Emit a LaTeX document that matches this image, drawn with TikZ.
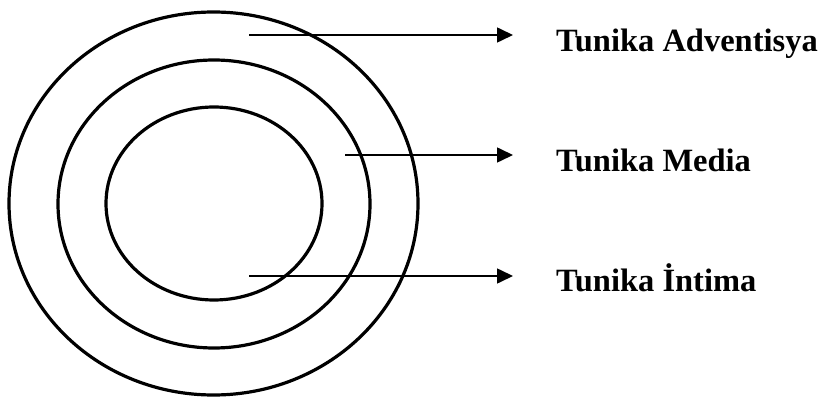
\documentclass[tikz,border=0pt]{standalone}
\usepackage{fontspec}
\setmainfont{Liberation Serif}
\usetikzlibrary{shapes.geometric,arrows.meta}
\tikzset{
  ring/.style={draw=black, ellipse, line width=3.2pt, inner sep=0pt},
  arr/.style={draw=black, line width=1.6pt, -{Triangle[length=16pt,width=15pt]}},
  lbl/.style={anchor=base west, inner sep=0pt, font=\fontsize{32.5}{36}\selectfont\bfseries}
}
\begin{document}
\begin{tikzpicture}[x=1pt,y=-1pt]
\useasboundingbox (0,0) rectangle (819,398);
\node[ring, minimum width=409pt, minimum height=383pt] (outer) at (213.5,203.5) {};
\node[ring, minimum width=312pt, minimum height=288pt] (middle) at (214,204) {};
\node[ring, minimum width=216pt, minimum height=193pt] (inner) at (214,203.5) {};
\node[lbl] (adv) at (556,51.7) {Tunika Adventisya};
\node[lbl] (med) at (556,171.7) {Tunika Media};
\node[lbl] (int) at (556,291.7) {Tunika İntima};
\coordinate (s1) at (249,35);
\coordinate (s2) at (345,155);
\coordinate (s3) at (249,276);
\coordinate (e1) at (513,35);
\coordinate (e2) at (513,155);
\coordinate (e3) at (513,276);
\draw[arr] (s1) -- (e1);
\draw[arr] (s2) -- (e2);
\draw[arr] (s3) -- (e3);
\end{tikzpicture}
\end{document}
